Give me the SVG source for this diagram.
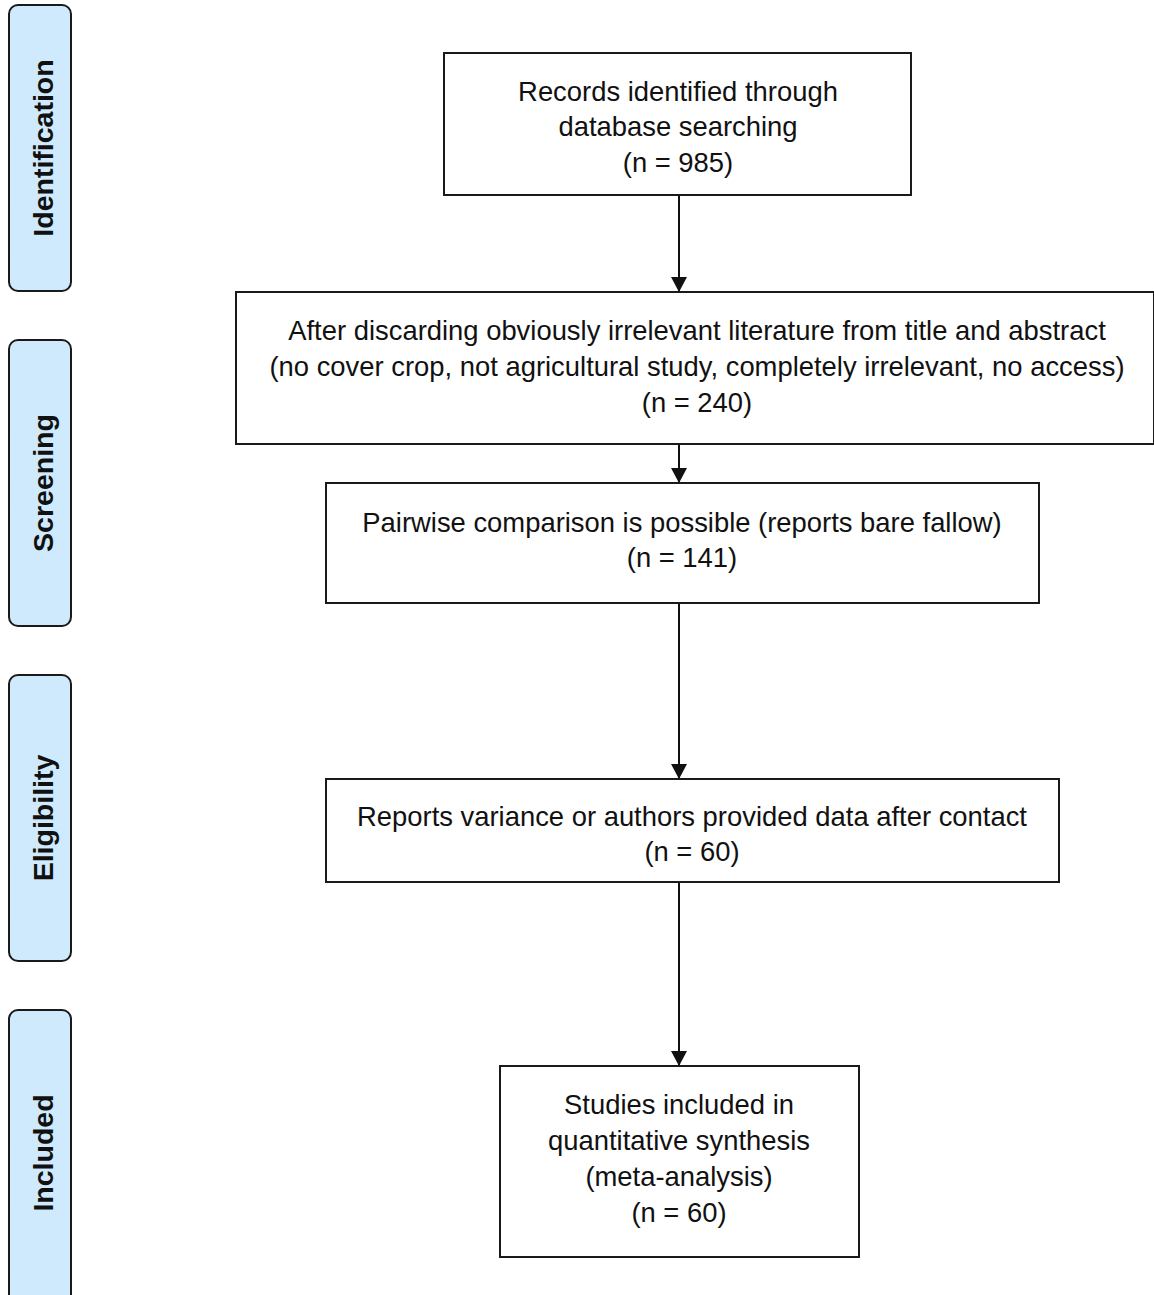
<svg xmlns="http://www.w3.org/2000/svg" width="1154" height="1295" viewBox="0 0 1154 1295">
<style>
.box{fill:#fff;stroke:#1a1a1a;stroke-width:2}
.side{fill:#cfeafd;stroke:#1a1a1a;stroke-width:2}
.t{font-family:"Liberation Sans",Arial,sans-serif;font-size:27.4px;fill:#111;text-anchor:middle}
.s{font-family:"Liberation Sans",Arial,sans-serif;font-size:28.5px;font-weight:bold;fill:#111;text-anchor:middle}
.c{stroke:#111;stroke-width:2;fill:none}
</style>
<defs>
<marker id="ah" markerWidth="16" markerHeight="16" refX="15" refY="8" orient="auto" markerUnits="userSpaceOnUse">
<path d="M0,0 L15,8 L0,16 z" fill="#111"/>
</marker>
</defs>
<rect width="1154" height="1295" fill="#fff"/>
<g id="side-identification"><rect class="side" x="9" y="5" width="62" height="286" rx="9"/><text class="s" transform="translate(53,148) rotate(-90)">Identification</text></g>
<g id="side-screening"><rect class="side" x="9" y="340" width="62" height="286" rx="9"/><text class="s" transform="translate(53,483) rotate(-90)">Screening</text></g>
<g id="side-eligibility"><rect class="side" x="9" y="675" width="62" height="286" rx="9"/><text class="s" transform="translate(53,818) rotate(-90)">Eligibility</text></g>
<g id="side-included"><rect class="side" x="9" y="1010" width="62" height="295" rx="9"/><text class="s" transform="translate(53,1153) rotate(-90)">Included</text></g>
<g id="connectors">
<line class="c" x1="679" y1="195" x2="679" y2="292" marker-end="url(#ah)"/>
<line class="c" x1="679" y1="444" x2="679" y2="483" marker-end="url(#ah)"/>
<line class="c" x1="679" y1="603" x2="679" y2="779" marker-end="url(#ah)"/>
<line class="c" x1="679" y1="882" x2="679" y2="1066" marker-end="url(#ah)"/>
</g>
<g id="node-records"><rect class="box" x="444" y="53" width="467" height="142"/>
<text class="t" x="678" y="101">Records identified through</text>
<text class="t" x="678" y="136">database searching</text>
<text class="t" x="678" y="172">(n = 985)</text></g>
<g id="node-after-discarding"><rect class="box" x="236" y="292" width="918" height="152"/>
<text class="t" x="697" y="340">After discarding obviously irrelevant literature from title and abstract</text>
<text class="t" x="697" y="376">(no cover crop, not agricultural study, completely irrelevant, no access)</text>
<text class="t" x="697" y="412">(n = 240)</text></g>
<g id="node-pairwise"><rect class="box" x="326" y="483" width="713" height="120"/>
<text class="t" x="682" y="532">Pairwise comparison is possible (reports bare fallow)</text>
<text class="t" x="682" y="567">(n = 141)</text></g>
<g id="node-variance"><rect class="box" x="326" y="779" width="733" height="103"/>
<text class="t" x="692" y="826">Reports variance or authors provided data after contact</text>
<text class="t" x="692" y="861">(n = 60)</text></g>
<g id="node-included"><rect class="box" x="500" y="1066" width="359" height="191"/>
<text class="t" x="679" y="1114">Studies included in</text>
<text class="t" x="679" y="1150">quantitative synthesis</text>
<text class="t" x="679" y="1186">(meta-analysis)</text>
<text class="t" x="679" y="1222">(n = 60)</text></g>
</svg>
